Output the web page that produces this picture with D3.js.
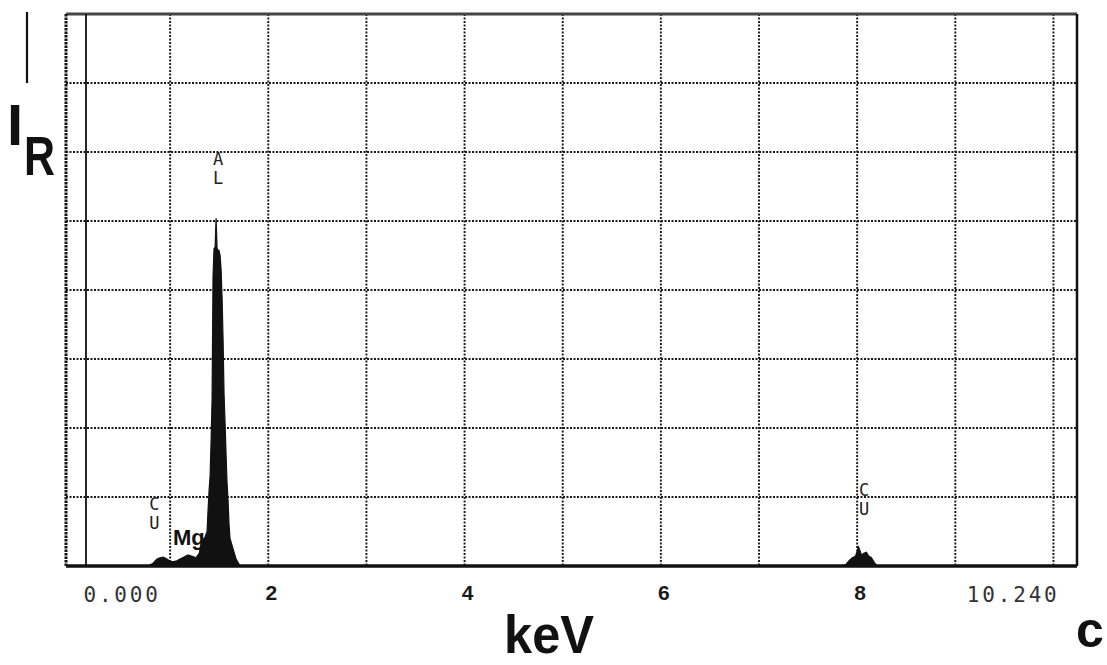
<!DOCTYPE html>
<html>
<head>
<meta charset="utf-8">
<script src="https://cdn.jsdelivr.net/npm/d3@7"></script>
<style>
  body { margin: 0; background: #fff; }
  svg { display: block; }
</style>
</head>
<body>
<svg id="spectrum" width="1107" height="665"></svg>
<script>
// EDS spectrum, energy in keV, intensity in grid units (8 divisions full scale)
var energy = [0.15, 0.775, 0.826, 0.866, 0.897, 0.928, 0.958, 0.989, 1.019, 1.060, 1.101, 1.142, 1.182, 1.223, 1.264,
  1.295, 1.315, 1.335, 1.356, 1.376, 1.386, 1.397, 1.407, 1.417, 1.427, 1.437, 1.447, 1.458, 1.468, 1.478,
  1.488, 1.498, 1.509, 1.519, 1.529, 1.539, 1.549, 1.560, 1.570, 1.580, 1.590, 1.600, 1.610, 1.631, 1.651,
  1.672, 1.692, 1.712,
  7.859, 7.890, 7.920, 7.951, 7.982, 8.002, 8.012, 8.022, 8.043, 8.063, 8.094, 8.114, 8.145, 8.175, 8.206, 10.24];
var intensity = [0, 0, 0.04, 0.10, 0.12, 0.13, 0.11, 0.08, 0.06, 0.07, 0.10, 0.13, 0.16, 0.14, 0.12,
  0.18, 0.30, 0.38, 0.42, 0.50, 0.80, 1.10, 1.30, 1.80, 2.40, 4.20, 4.60, 4.62, 5.04, 4.60,
  4.58, 4.57, 4.50, 4.30, 3.90, 3.30, 2.50, 2.05, 1.60, 1.20, 0.95, 0.60, 0.40, 0.30, 0.20,
  0.10, 0.05, 0,
  0, 0.03, 0.08, 0.12, 0.14, 0.22, 0.28, 0.25, 0.16, 0.18, 0.20, 0.15, 0.12, 0.05, 0, 0];

var xTicks = [2, 4, 6, 8];
var xGrid = [1, 2, 3, 4, 5, 6, 7, 8, 9, 10];
var yGrid = [1, 2, 3, 4, 5, 6, 7];
var rangeLabels = ["0.000", "10.240"];
var rangeLabelAt = [0.51, 9.59];

// peak labels: element lines, energy of label, intensity of label top
var peakNames = [["C", "U"], ["A", "L"], ["C", "U"]];
var peakEnergy = [0.84, 1.49, 8.07];
var peakTop = [1.0, 6.0, 1.2];

var svg = d3.select("#spectrum"),
    pLeft = 66, pTop = 14, pBottom = 566;

var x = d3.scaleLinear().domain([0, 10.24]).range([72, 1077]);
var y = d3.scaleLinear().domain([0, 8]).range([pBottom, pTop]);
var pRight = x(10.24);

// dotted grid
svg.append("g").selectAll("line")
  .data(xGrid).enter().append("line")
    .attr("x1", function(d) { return x(d); })
    .attr("x2", function(d) { return x(d); })
    .attr("y1", pTop).attr("y2", pBottom)
    .attr("stroke", "#1a1a1a").attr("stroke-width", 1.9)
    .attr("stroke-dasharray", "2,1.5");

svg.append("g").selectAll("line")
  .data(yGrid).enter().append("line")
    .attr("x1", pLeft).attr("x2", pRight)
    .attr("y1", function(d) { return y(d); })
    .attr("y2", function(d) { return y(d); })
    .attr("stroke", "#1a1a1a").attr("stroke-width", 1.9)
    .attr("stroke-dasharray", "2,1.5");

// frame
svg.append("line").attr("x1", pLeft).attr("x2", pRight).attr("y1", pTop).attr("y2", pTop)
  .attr("stroke", "#444").attr("stroke-width", 3);
svg.append("line").attr("x1", pRight).attr("x2", pRight).attr("y1", pTop).attr("y2", pBottom)
  .attr("stroke", "#111").attr("stroke-width", 2.5);
svg.append("line").attr("x1", pLeft).attr("x2", pLeft).attr("y1", pTop).attr("y2", pBottom)
  .attr("stroke", "#111").attr("stroke-width", 3).attr("stroke-dasharray", "2.5,1");
svg.append("line").attr("x1", 86).attr("x2", 86).attr("y1", pTop).attr("y2", pBottom)
  .attr("stroke", "#111").attr("stroke-width", 1.8);

// spectrum
var pts = energy.map(function(e, i) { return [e, intensity[i]]; });
var area = d3.area()
  .x(function(d) { return x(d[0]); })
  .y0(pBottom)
  .y1(function(d) { return y(d[1]); });
svg.append("path").datum(pts)
  .attr("d", area)
  .attr("fill", "#111").attr("stroke", "#111").attr("stroke-width", 1.2);

svg.append("line").attr("x1", pLeft).attr("x2", pRight).attr("y1", pBottom).attr("y2", pBottom)
  .attr("stroke", "#111").attr("stroke-width", 3.5);

// x labels
svg.append("g").selectAll("text")
  .data(xTicks).enter().append("text")
    .attr("x", function(d) { return x(d) + 3; })
    .attr("y", 600)
    .attr("text-anchor", "middle")
    .attr("font-family", "Liberation Sans, Arial, sans-serif")
    .attr("font-weight", "bold").attr("font-size", 21)
    .attr("fill", "#1a1a1a")
    .text(function(d) { return d; });

svg.append("g").selectAll("text")
  .data(rangeLabels).enter().append("text")
    .attr("x", function(d, i) { return x(rangeLabelAt[i]); })
    .attr("y", 602)
    .attr("text-anchor", "middle")
    .attr("font-family", "DejaVu Sans Mono, monospace")
    .attr("font-size", 21).attr("letter-spacing", 2.8)
    .attr("fill", "#333")
    .text(function(d) { return d; });

// peak labels
var lab = svg.append("g").selectAll("g")
  .data(peakNames).enter().append("g");
lab.selectAll("text")
  .data(function(d, i) { return d.map(function(c, j) { return {c: c, i: i, j: j}; }); })
  .enter().append("text")
    .attr("x", function(d) { return x(peakEnergy[d.i]); })
    .attr("y", function(d) { return y(peakTop[d.i]) + 13 + d.j * 18.5; })
    .attr("text-anchor", "middle")
    .attr("font-family", "DejaVu Sans Mono, monospace")
    .attr("font-size", 17)
    .attr("fill", "#222")
    .text(function(d) { return d.c; });

svg.append("text")
  .attr("x", 173).attr("y", 545)
  .attr("font-family", "Liberation Sans, Arial, sans-serif")
  .attr("font-weight", "bold").attr("font-size", 22)
  .attr("fill", "#111")
  .text("Mg");

// axis titles
svg.append("line").attr("x1", 27).attr("x2", 27).attr("y1", 12).attr("y2", 83)
  .attr("stroke", "#111").attr("stroke-width", 2.2);
svg.append("text")
  .attr("x", 7).attr("y", 145)
  .attr("font-family", "Liberation Sans, Arial, sans-serif")
  .attr("font-weight", "bold").attr("font-size", 58)
  .attr("fill", "#111")
  .text("I");
svg.append("text")
  .attr("x", 24).attr("y", 175)
  .attr("font-family", "Liberation Sans, Arial, sans-serif")
  .attr("font-weight", "bold").attr("font-size", 55)
  .attr("textLength", 31).attr("lengthAdjust", "spacingAndGlyphs")
  .attr("fill", "#111")
  .text("R");
svg.append("text")
  .attr("x", 504).attr("y", 653)
  .attr("font-family", "Liberation Sans, Arial, sans-serif")
  .attr("font-weight", "bold").attr("font-size", 54)
  .attr("textLength", 90).attr("lengthAdjust", "spacingAndGlyphs")
  .attr("fill", "#111")
  .text("keV");
svg.append("text")
  .attr("x", 1076).attr("y", 647)
  .attr("font-family", "Liberation Sans, Arial, sans-serif")
  .attr("font-weight", "bold").attr("font-size", 50)
  .attr("fill", "#111")
  .text("c");
</script>
</body>
</html>
